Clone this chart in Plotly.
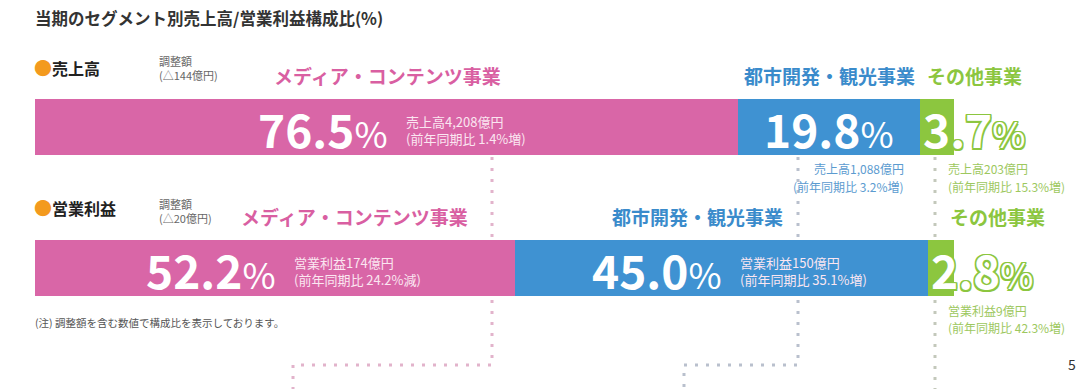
import plotly.graph_objects as go

W, H = 1080, 389

# ---------------- data ----------------
title_text = "当期のセグメント別売上高/営業利益構成比(%)"
metrics = ["売上高", "営業利益"]
segments = ["メディア・コンテンツ事業", "都市開発・観光事業", "その他事業"]
share_sales = [76.5, 19.8, 3.7]
share_profit = [52.2, 45.0, 2.8]
amount_sales = ["4,208", "1,088", "203"]
amount_profit = ["174", "150", "9"]
yoy_sales = ["1.4%増", "3.2%増", "15.3%増"]
yoy_profit = ["24.2%減", "35.1%増", "42.3%増"]
adjustments = ["144", "20"]
note_text = "(注) 調整額を含む数値で構成比を表示しております。"
page_no = "5"

# ---------------- styles ----------------
bar_colors = ["#d966a7", "#3f92d2", "#8cc63f"]
label_colors = ["#d95fa2", "#3a8bcb", "#8cc63f"]
detail_colors = ["#fbe6f1", "#5b9bd0", "#9dc85e"]
FONT = "Noto Sans CJK JP"

shares = [share_sales, share_profit]
amounts = [amount_sales, amount_profit]
yoys = [yoy_sales, yoy_profit]

# layout constants (pixels)
row_center_px = [127, 268]
row_gap_px = row_center_px[1] - row_center_px[0]
bar_h_px = 56
plot_x0, plot_x1 = 35, 954


def xp(px):
    return px / W


def yp(py):
    return 1 - py / H


fig = go.Figure()
for i, seg in enumerate(segments):
    fig.add_trace(go.Bar(
        y=metrics,
        x=[share_sales[i], share_profit[i]],
        orientation="h",
        name=seg,
        marker=dict(color=bar_colors[i], line=dict(width=0)),
        width=bar_h_px / row_gap_px,
        hoverinfo="skip",
        showlegend=False,
    ))

ann = []

# title
ann.append(dict(x=xp(33), y=yp(18), xref="paper", yref="paper", xanchor="left", yanchor="middle",
                text=f"<b>{title_text}</b>", showarrow=False,
                font=dict(family=FONT, size=16.5, color="#333333")))

# row headers
header_y = [67, 207]
adj_y = [68, 211]
for r, m in enumerate(metrics):
    ann.append(dict(x=xp(32), y=yp(header_y[r]), xref="paper", yref="paper", xanchor="left",
                    yanchor="middle", showarrow=False,
                    text=f"<span style='color:#f39a1e;font-size:18px'>●</span><b>{m}</b>",
                    font=dict(family=FONT, size=16, color="#222222")))
    ann.append(dict(x=xp(157), y=yp(adj_y[r]), xref="paper", yref="paper", xanchor="left",
                    yanchor="middle", showarrow=False, align="left",
                    text=f"調整額<br>(△{adjustments[r]}億円)",
                    font=dict(family=FONT, size=11, color="#666666")))

# segment titles above bars
title_pos = [[(387, "center"), (829, "center"), (925, "left")],
             [(470, "right"), (785, "right"), (948, "left")]]
title_y = [76, 217]
for r in range(2):
    for i, seg in enumerate(segments):
        px, anc = title_pos[r][i]
        ann.append(dict(x=xp(px), y=yp(title_y[r]), xref="paper", yref="paper", xanchor=anc,
                        yanchor="middle", showarrow=False, text=f"<b>{seg}</b>",
                        font=dict(family=FONT, size=19, color=label_colors[i])))

# inside-bar texts
detail_inside = [[True, False, False], [True, True, False]]
outline = ", ".join(f"{dx}px {dy}px 0 #8cc63f" for dx in (-1.5, 0, 1.5) for dy in (-1.5, 0, 1.5))
for r in range(2):
    cum = 0.0
    for i, seg in enumerate(segments):
        s = shares[r][i]
        center = cum + s / 2
        big = f"{s:.1f}<span style='font-size:36px;font-weight:normal'>%</span>"
        yv = yp(row_center_px[r] + 1)
        if s < 5:
            ann.append(dict(x=cum, y=yv, xref="x", yref="paper", xanchor="left", yanchor="middle",
                            xshift=1, showarrow=False, text=f"<b>{big}</b>",
                            font=dict(family=FONT, size=46, color="white", shadow=outline)))
        elif detail_inside[r][i]:
            ann.append(dict(x=center, y=yv, xref="x", yref="paper", xanchor="right",
                            yanchor="middle", xshift=3, showarrow=False, text=f"<b>{big}</b>",
                            font=dict(family=FONT, size=46, color="white")))
            ann.append(dict(x=center, y=yp(row_center_px[r] + 3), xref="x", yref="paper",
                            xanchor="left", yanchor="middle", xshift=17, showarrow=False,
                            align="left",
                            text=f"{metrics[r]}{amounts[r][i]}億円<br>(前年同期比 {yoys[r][i]})",
                            font=dict(family=FONT, size=13, color=detail_colors[0])))
        else:
            ann.append(dict(x=center, y=yv, xref="x", yref="paper", xanchor="center",
                            yanchor="middle", showarrow=False, text=f"<b>{big}</b>",
                            font=dict(family=FONT, size=46, color="white")))
        cum += s


def two_lines(x, xanchor, xshift, y1, lines, color):
    for k, line in enumerate(lines):
        ann.append(dict(x=x, y=yp(y1 + 17.5 * k), xref="x", yref="paper", xanchor=xanchor,
                        yanchor="middle", xshift=xshift, showarrow=False, text=line,
                        font=dict(family=FONT, size=12, color=color)))


# details below bars
below_y = [169, 310]
cum0 = share_sales[0] + share_sales[1]
two_lines(cum0, "right", -14, below_y[0],
          [f"{metrics[0]}{amount_sales[1]}億円", f"(前年同期比 {yoy_sales[1]})"], detail_colors[1])
for r in range(2):
    two_lines(100, "left", -8, below_y[r],
              [f"{metrics[r]}{amounts[r][2]}億円", f"(前年同期比 {yoys[r][2]})"], detail_colors[2])

# note & page number
ann.append(dict(x=xp(33), y=yp(322), xref="paper", yref="paper", xanchor="left", yanchor="middle",
                showarrow=False, text=note_text, font=dict(family=FONT, size=10.5, color="#555555")))
ann.append(dict(x=xp(1066), y=yp(364), xref="paper", yref="paper", xanchor="left", yanchor="middle",
                showarrow=False, text=page_no, font=dict(family=FONT, size=14, color="#333333")))

# dotted connectors
def path(points):
    return "M " + " L ".join(f"{xp(x):.5f} {yp(y):.5f}" for x, y in points)

connectors = [
    ([(492, 157), (492, 365), (293, 365), (293, 392)], "#e2b3cb"),
    ([(798, 157), (798, 365), (684, 365), (684, 392)], "#b9c0cd"),
    ([(935, 157), (935, 392)], "#c3c8bb"),
]
shapes = []
for pts, col in connectors:
    shapes.append(dict(type="path", path=path(pts), xref="paper", yref="paper", layer="below",
                       line=dict(color=col, width=3, dash="3px,8px")))

fig.update_layout(
    width=W, height=H,
    margin=dict(l=0, r=0, t=0, b=0),
    paper_bgcolor="white", plot_bgcolor="rgba(0,0,0,0)",
    barmode="stack", bargap=0,
    xaxis=dict(domain=[xp(plot_x0), xp(plot_x1)], range=[0, 100], visible=False, fixedrange=True),
    yaxis=dict(type="category", visible=False, fixedrange=True,
               range=[(H - row_center_px[0]) / row_gap_px, -row_center_px[0] / row_gap_px]),
    annotations=ann,
    shapes=shapes,
)

fig.write_html("out.html", config={"displayModeBar": False},
               post_script="document.body.style.margin='0';document.body.style.overflow='hidden';")
